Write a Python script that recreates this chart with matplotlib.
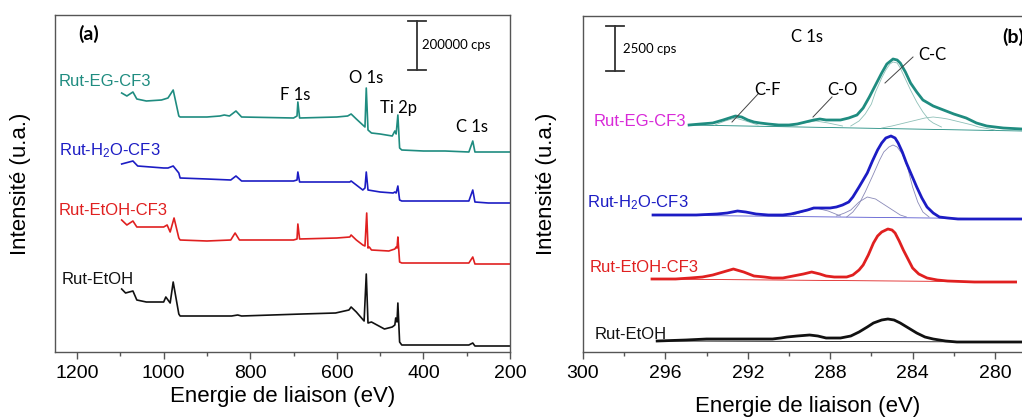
import matplotlib
matplotlib.use("Agg")
import matplotlib.pyplot as plt
from matplotlib.ticker import MultipleLocator

plt.rcParams['font.family'] = ['Liberation Sans', 'DejaVu Sans']
plt.rcParams['mathtext.fontset'] = 'custom'
plt.rcParams['mathtext.rm'] = 'Liberation Sans'
plt.rcParams['mathtext.it'] = 'Liberation Sans'

# ---------------- data: survey spectra (panel a), energy (eV) / intensity (a.u.)
eg_E = [1097, 1085, 1071, 1062, 1040, 1005, 990, 978, 965, 962, 900, 870, 860, 848, 833, 820,
        700, 692, 690, 686, 600, 575, 567, 555, 540, 535, 532, 528, 520, 500, 472, 466, 463,
        459, 455, 450, 400, 350, 295, 286, 281, 250, 200]
eg_I = [259, 256, 260, 253, 251, 252, 254, 262, 236, 235, 235, 236, 237, 236, 241, 235,
        234, 236, 250, 234, 235, 236, 238, 233, 227, 225, 264, 222, 219, 218, 216, 221, 218,
        237, 204, 202, 201, 201, 200, 211, 200, 200, 200]

h2o_E = [1097, 1071, 1060, 1000, 990, 978, 965, 962, 900, 845, 833, 820, 700, 692, 690, 686,
         600, 570, 567, 555, 540, 535, 532, 528, 500, 470, 466, 463, 459, 455, 450, 400, 295,
         286, 281, 250, 200]
h2o_I = [188, 191, 186, 184, 184, 186, 179, 174, 173, 172, 176, 171, 171, 172, 180, 170,
         170, 170, 171, 167, 162, 164, 180, 162, 160, 159, 160, 159, 166, 152, 151, 151, 151,
         162, 150, 149, 149]

etcf_E = [1097, 1085, 1071, 1062, 1000, 992, 985, 976, 965, 962, 900, 845, 835, 825, 700,
          692, 690, 686, 600, 570, 567, 555, 540, 535, 531, 528, 525, 520, 480, 466, 463,
          461, 459, 455, 450, 400, 295, 286, 281, 250, 200]
etcf_I = [132, 127, 131, 125, 125, 127, 120, 134, 114, 112, 111, 112, 119, 112, 112,
          113, 128, 113, 114, 115, 117, 112, 107, 106, 139, 104, 105, 102, 101, 103, 105,
          104, 115, 90, 89, 89, 89, 95, 88, 88, 88]

et_E = [1097, 1088, 1071, 1062, 1040, 1000, 995, 985, 978, 965, 962, 900, 843, 829, 820,
        680, 603, 572, 567, 555, 545, 537, 532, 528, 520, 490, 472, 466, 464, 461, 459,
        455, 450, 400, 295, 286, 281, 250, 200]
et_I = [63, 59, 61, 52, 50, 50, 55, 49, 70, 38, 36, 36, 36, 37, 36,
        38, 39, 42, 45, 40, 35, 31, 78, 29, 30, 23, 25, 27, 34, 30, 49,
        10, 7, 7, 7, 9, 6, 6, 6]

# ---------------- data: C 1s spectra (panel b)
c_eg_E = [294.85, 294.3, 293.7, 293.2, 292.9, 292.6, 292.3, 292.0, 291.7, 291.4, 291.0, 290.5,
          290.0, 289.6, 289.2, 288.8, 288.5, 288.2, 287.8, 287.5, 287.1, 286.7, 286.4, 286.1,
          285.8, 285.5, 285.25, 284.95, 284.75, 284.6, 284.35, 284.1, 283.8, 283.5, 283.0,
          282.5, 282.0, 281.4, 280.9, 280.4, 279.6, 278.7]
c_eg_I = [227, 228, 229, 232, 234, 236, 235, 232, 230, 229, 228, 227,
          227, 228, 230, 232, 233, 232, 232, 232, 234, 237, 244, 255,
          267, 279, 288, 293, 292, 289, 280, 269, 260, 252, 246,
          242, 238, 234, 229, 226, 224, 223]
c_eg_bg_E = [294.85, 278.7]
c_eg_bg_I = [227, 221]
c_eg_cc_E = [287.0, 286.6, 286.3, 286.0, 285.8, 285.5, 285.3, 285.1, 284.95, 284.75, 284.6,
             284.35, 284.1, 283.8, 283.5, 283.2, 283.0, 282.6]
c_eg_cc_I = [226, 231, 238, 248, 260, 274, 282, 288, 290, 289, 284,
             273, 262, 250, 240, 232, 229, 225]
c_eg_c2_E = [285.5, 285.0, 284.6, 284.2, 283.8, 283.4, 283.0, 282.6, 282.3, 281.9, 281.5,
             281.1, 280.8, 280.0]
c_eg_c2_I = [224, 226, 228, 230, 232, 234, 235, 234, 233, 231, 229, 227, 225, 222]
c_eg_co_E = [290.0, 289.3, 288.7, 288.1, 287.4]
c_eg_co_I = [226, 229, 231, 229, 226]
c_eg_cf_E = [293.6, 293.1, 292.6, 292.1, 291.5]
c_eg_cf_I = [227, 231, 234, 231, 227]

c_h2o_E = [296.6, 295.5, 294.5, 293.5, 293.0, 292.5, 292.1, 291.6, 291.0, 290.3, 289.9, 289.5,
           289.1, 288.8, 288.4, 288.0, 287.7, 287.4, 287.1, 286.9, 286.6, 286.2, 285.95, 285.7,
           285.5, 285.3, 285.05, 284.85, 284.7, 284.5, 284.3, 284.05, 283.8, 283.55, 283.3,
           283.0, 282.7, 282.3, 281.8, 280.2, 278.7]
c_h2o_I = [137, 137, 137, 138, 139, 141, 140, 138, 137, 137, 138, 140,
           142, 144, 144, 144, 145, 147, 150, 155, 165, 179, 191, 202,
           209, 214, 216, 214, 209, 200, 189, 177, 165, 154, 145,
           139, 135, 134, 133, 133, 133]
c_h2o_bg_E = [296.6, 278.7]
c_h2o_bg_I = [137, 133]
c_h2o_c1_E = [287.2, 286.9, 286.6, 286.3, 285.9, 285.6, 285.4, 285.15, 284.95, 284.75, 284.5,
              284.25, 284.0, 283.75, 283.5, 283.2]
c_h2o_c1_I = [135, 140, 148, 160, 178, 192, 200, 205, 207, 205, 198,
              185, 165, 150, 140, 135]
c_h2o_c2_E = [287.7, 287.3, 287.0, 286.6, 286.2, 285.8, 285.5, 285.2, 284.9, 284.6, 284.3]
c_h2o_c2_I = [136, 139, 142, 150, 155, 153, 149, 145, 141, 137, 135]
c_h2o_c3_E = [289.8, 289.2, 288.7, 288.1, 287.5]
c_h2o_c3_I = [137, 141, 144, 141, 136]

c_etcf_E = [296.65, 295.5, 294.8, 294.2, 293.7, 293.2, 292.7, 292.2, 291.7, 291.2, 290.8,
            290.3, 289.8, 289.3, 288.9, 288.5, 288.2, 287.8, 287.5, 287.2, 286.9, 286.6,
            286.4, 286.15, 285.9, 285.7, 285.5, 285.2, 285.0, 284.85, 284.65, 284.45, 284.2,
            284.0, 283.7, 283.3, 282.8, 282.3, 281.0, 279.0]
c_etcf_I = [73, 73, 74, 75, 77, 80, 83, 80, 76, 75, 74,
            74, 76, 78, 80, 78, 76, 75, 75, 75, 77, 82,
            87, 97, 109, 116, 120, 123, 122, 119, 111, 102, 92,
            84, 78, 74, 72, 71, 70, 70]
c_etcf_bg_E = [296.65, 279.0]
c_etcf_bg_I = [73, 70]

c_et_E = [296.4, 295.0, 294.0, 292.0, 290.8, 290.4, 290.1, 289.6, 289.0, 288.6, 288.2, 287.8,
          287.5, 287.0, 286.6, 286.2, 285.9, 285.5, 285.2, 284.9, 284.6, 284.2, 283.8, 283.4,
          283.0, 282.4, 281.85, 278.7]
c_et_I = [11, 12, 13, 13, 13, 14, 15, 16, 17, 16, 14, 14,
          14, 16, 20, 25, 29, 32, 33, 32, 29, 24, 19, 15,
          13, 11, 10, 10]
c_et_bg_E = [295.9, 278.7]
c_et_bg_I = [11, 10]

labels = ["Rut-EG-CF3", "Rut-H$_2$O-CF3", "Rut-EtOH-CF3", "Rut-EtOH"]
teal = '#1f8c80'
blue = '#1c1cc4'
red = '#e02020'
black = '#111111'
magenta = '#d829d8'
spine_col = '#555555'

fig = plt.figure(figsize=(10.22, 4.19), dpi=100)
W, H = 1022, 419

def axes_px(l, t, r, b):
    return fig.add_axes([l / W, 1 - b / H, (r - l) / W, (b - t) / H])

def ftext(x, y, s, **kw):
    fig.text(x / W, 1 - y / H, s, **kw)

def fline(xs, ys, **kw):
    fig.add_artist(plt.Line2D([x / W for x in xs], [1 - y / H for y in ys],
                              transform=fig.transFigure, **kw))

axa = axes_px(55, 15, 510, 352)
axb = axes_px(583, 16, 1030, 352)

for ax in (axa, axb):
    for s in ax.spines.values():
        s.set_color(spine_col)
        s.set_linewidth(1.0)
    ax.set_yticks([])
    ax.tick_params(axis='x', which='major', direction='out', length=5, width=1,
                   color=spine_col, labelsize=14, pad=4, top=False)
    ax.tick_params(axis='x', which='minor', direction='out', length=3, width=1,
                   color=spine_col, top=False)
    ax.set_ylabel("Intensité (u.a.)", fontsize=16)

# ---- panel a
axa.plot(eg_E, eg_I, color=teal, lw=1.2)
axa.plot(h2o_E, h2o_I, color=blue, lw=1.2)
axa.plot(etcf_E, etcf_I, color=red, lw=1.2)
axa.plot(et_E, et_I, color=black, lw=1.2)
axa.set_xlim(1251, 200)
axa.set_ylim(0, 337)
axa.xaxis.set_major_locator(MultipleLocator(200))
axa.xaxis.set_minor_locator(MultipleLocator(100))
axa.set_xlabel("Energie de liaison (eV)", fontsize=16, labelpad=3)
axa.yaxis.set_label_coords(-(55 - 31) / 455, 0.5)

lab_kw = dict(fontsize=12, va='center', ha='left')
ftext(59, 81, labels[0], color=teal, **lab_kw)
ftext(59, 151, labels[1], color=blue, **lab_kw)
ftext(59, 210, labels[2], color=red, **lab_kw)
ftext(62, 279, labels[3], color=black, **lab_kw)

lato = ['Lato', 'DejaVu Sans']
pk_kw = dict(fontsize=12, ha='center', va='center', family=lato)
ftext(295, 95, "F 1s", **pk_kw)
ftext(366, 78, "O 1s", **pk_kw)
ftext(398, 108, "Ti 2p", **pk_kw)
ftext(472, 127, "C 1s", **pk_kw)
ftext(89, 34, "(a)", fontsize=14, fontweight='bold', ha='center', va='center', family=lato)

fline([417, 417], [21, 70], color='#333333', lw=1.3)
fline([408, 426], [21, 21], color='#333333', lw=1.3)
fline([408, 426], [70, 70], color='#333333', lw=1.3)
ftext(422, 45, "200000 cps", fontsize=9.5, ha='left', va='center', family=lato)

# ---- panel b
thin = dict(lw=0.6)
comp_teal = '#8fc0b8'
comp_blue = '#8a8ab8'
axb.plot(c_eg_bg_E, c_eg_bg_I, color=teal, **thin)
axb.plot(c_eg_cc_E, c_eg_cc_I, color=comp_teal, **thin)
axb.plot(c_eg_c2_E, c_eg_c2_I, color=comp_teal, **thin)
axb.plot(c_eg_co_E, c_eg_co_I, color=comp_teal, **thin)
axb.plot(c_eg_cf_E, c_eg_cf_I, color=comp_teal, **thin)
axb.plot(c_eg_E, c_eg_I, color=teal, lw=2.0)

axb.plot(c_h2o_bg_E, c_h2o_bg_I, color='#5a5ad0', **thin)
axb.plot(c_h2o_c1_E, c_h2o_c1_I, color=comp_blue, **thin)
axb.plot(c_h2o_c2_E, c_h2o_c2_I, color=comp_blue, **thin)
axb.plot(c_h2o_c3_E, c_h2o_c3_I, color=comp_blue, **thin)
axb.plot(c_h2o_E, c_h2o_I, color=blue, lw=2.0)

axb.plot(c_etcf_bg_E, c_etcf_bg_I, color=red, **thin)
axb.plot(c_etcf_E, c_etcf_I, color=red, lw=2.0)

axb.plot(c_et_bg_E, c_et_bg_I, color=black, **thin)
axb.plot(c_et_E, c_et_I, color=black, lw=2.0)

axb.set_xlim(300, 300 - (1030 - 583) / 20.6)
axb.set_ylim(0, 336)
axb.xaxis.set_major_locator(MultipleLocator(4))
axb.xaxis.set_minor_locator(MultipleLocator(2))
axb.spines['right'].set_visible(False)
axb.set_xlabel("Energie de liaison (eV)", fontsize=16)
axb.xaxis.set_label_coords((808 - 583) / (1030 - 583), -0.13)
axb.yaxis.set_label_coords(-(583 - 557) / 447, 0.5)

ftext(594, 121, labels[0], color=magenta, **lab_kw)
ftext(587, 203, labels[1], color=blue, **lab_kw)
ftext(590, 267, labels[2], color=red, **lab_kw)
ftext(595, 334, labels[3], color=black, **lab_kw)

ftext(807, 37, "C 1s", **pk_kw)
ftext(767, 90, "C-F", **pk_kw)
ftext(842, 90, "C-O", **pk_kw)
ftext(932, 55, "C-C", **pk_kw)
ftext(1002, 37, "(b)", fontsize=14, fontweight='bold', ha='left', va='center', family=lato)
fline([758, 732], [94, 122], color='#444444', lw=0.7)
fline([832, 813], [97, 117], color='#444444', lw=0.7)
fline([913, 885], [57, 83], color='#444444', lw=0.7)

fline([615, 615], [26, 71], color='#333333', lw=1.3)
fline([606, 624], [26, 26], color='#333333', lw=1.3)
fline([606, 624], [71, 71], color='#333333', lw=1.3)
ftext(623, 49, "2500 cps", fontsize=9.5, ha='left', va='center', family=lato)

fig.savefig("out.png", dpi=100)
